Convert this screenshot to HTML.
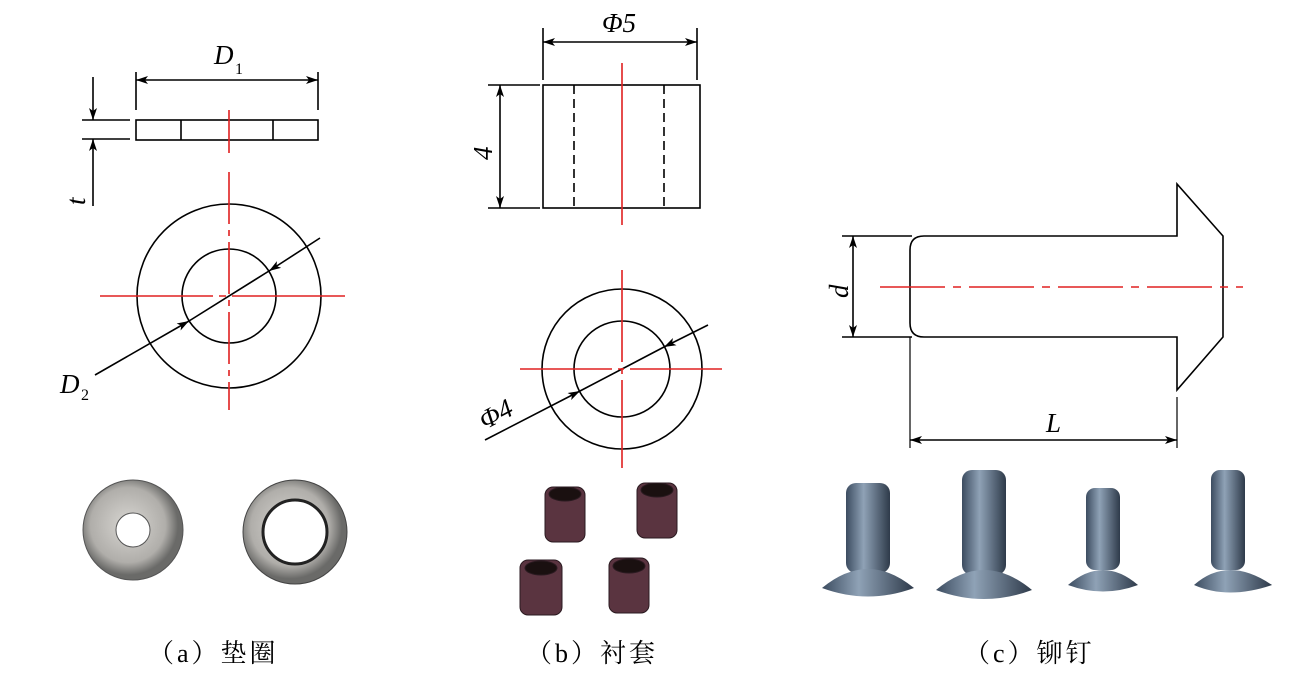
<!DOCTYPE html>
<html><head><meta charset="utf-8"><style>
html,body{margin:0;padding:0;background:#fff}
svg{display:block}
text{font-family:"Liberation Serif","Noto Serif CJK SC",serif}
</style></head><body>
<svg width="1296" height="679" viewBox="0 0 1296 679" xmlns="http://www.w3.org/2000/svg">
<defs>
<marker id="a" viewBox="0 0 12 8" refX="12" refY="4" markerWidth="12" markerHeight="8" orient="auto-start-reverse" markerUnits="userSpaceOnUse"><path d="M0,0 L12,4 L0,8 L3,4z" fill="#000"/></marker>
<radialGradient id="wg" cx="45%" cy="45%"><stop offset="0" stop-color="#d8d6d2"/><stop offset="0.75" stop-color="#b0aeaa"/><stop offset="1" stop-color="#6a6a68"/></radialGradient>
<linearGradient id="rg" x1="0" x2="1"><stop offset="0" stop-color="#3c4c60"/><stop offset="0.4" stop-color="#8fa2b6"/><stop offset="1" stop-color="#2e3a4a"/></linearGradient>
</defs>
<g stroke="#000" stroke-width="1.6" fill="none">
<rect x="136" y="120" width="182" height="20"/>
<line x1="181" y1="120" x2="181" y2="140"/><line x1="273" y1="120" x2="273" y2="140"/>
<line x1="136" y1="72" x2="136" y2="110"/><line x1="318" y1="72" x2="318" y2="110"/>
<line x1="136" y1="80" x2="318" y2="80" marker-start="url(#a)" marker-end="url(#a)"/>
<line x1="82" y1="120" x2="130" y2="120"/><line x1="82" y1="139" x2="130" y2="139"/>
<line x1="93" y1="77" x2="93" y2="120" marker-end="url(#a)"/>
<line x1="93" y1="206" x2="93" y2="139" marker-end="url(#a)"/>
<circle cx="229" cy="296" r="92"/><circle cx="229" cy="296" r="47"/>
<line x1="320" y1="238" x2="269" y2="271" marker-end="url(#a)"/>
<line x1="269" y1="271" x2="189" y2="321"/>
<line x1="95" y1="375" x2="189" y2="321" marker-end="url(#a)"/>
<rect x="543" y="85" width="157" height="123"/>
<line x1="574" y1="85" x2="574" y2="208" stroke-dasharray="9,5"/>
<line x1="664" y1="85" x2="664" y2="208" stroke-dasharray="9,5"/>
<line x1="543" y1="28" x2="543" y2="80"/><line x1="697" y1="28" x2="697" y2="80"/>
<line x1="543" y1="42" x2="697" y2="42" marker-start="url(#a)" marker-end="url(#a)"/>
<line x1="488" y1="85" x2="540" y2="85"/><line x1="488" y1="208" x2="540" y2="208"/>
<line x1="500" y1="85" x2="500" y2="208" marker-start="url(#a)" marker-end="url(#a)"/>
<circle cx="622" cy="369" r="80"/><circle cx="622" cy="369" r="48"/>
<line x1="708" y1="325" x2="664" y2="347" marker-end="url(#a)"/>
<line x1="664" y1="347" x2="580" y2="391"/>
<line x1="485" y1="440" x2="580" y2="391" marker-end="url(#a)"/>
<path d="M1177,236 L924,236 Q910,236 910,250 L910,323 Q910,337 924,337 L1177,337 L1177,390 L1223,337 L1223,236 L1177,184 Z"/>
<line x1="842" y1="236" x2="912" y2="236"/><line x1="842" y1="337" x2="912" y2="337"/>
<line x1="853" y1="236" x2="853" y2="337" marker-start="url(#a)" marker-end="url(#a)"/>
<line x1="910" y1="337" x2="910" y2="448" stroke-width="1.2"/>
<line x1="1177" y1="397" x2="1177" y2="448" stroke-width="1.2"/>
<line x1="910" y1="440" x2="1177" y2="440" marker-start="url(#a)" marker-end="url(#a)"/>
</g>
<g stroke="#e02020" stroke-width="1.6" fill="none">
<line x1="229" y1="110" x2="229" y2="153"/>
<line x1="229" y1="172" x2="229" y2="410" stroke-dasharray="52,6,6,6"/>
<line x1="100" y1="296" x2="345" y2="296" stroke-dasharray="113,6,7,6"/>
<line x1="622" y1="63" x2="622" y2="225"/>
<line x1="622" y1="270" x2="622" y2="468" stroke-dasharray="92,6,6,6"/>
<line x1="520" y1="369" x2="722" y2="369" stroke-dasharray="92,6,6,6"/>
<line x1="880" y1="287" x2="1243" y2="287" stroke-dasharray="65,8,8,8"/>
</g>
<g font-style="italic" font-size="27" fill="#000">
<text x="214" y="64">D</text><text x="235" y="74" font-size="16" font-style="normal">1</text>
<text x="60" y="393">D</text><text x="81" y="400" font-size="16" font-style="normal">2</text>
<text transform="translate(85,205) rotate(-90)">t</text>
<text x="602" y="32">Φ5</text>
<text transform="translate(492,160) rotate(-90)">4</text>
<text transform="translate(485,430) rotate(-28)">Φ4</text>
<text transform="translate(848,298) rotate(-90)">d</text>
<text x="1046" y="432">L</text>
</g>
<circle cx="133" cy="530" r="50" fill="url(#wg)" stroke="#555"/><circle cx="133" cy="530" r="17" fill="#fff" stroke="#555"/>
<circle cx="295" cy="532" r="52" fill="url(#wg)" stroke="#444"/><circle cx="295" cy="532" r="32" fill="#fff" stroke="#222" stroke-width="3"/>
<g fill="#5a3440" stroke="#2a1a20">
<rect x="545" y="487" width="40" height="55" rx="8"/><ellipse cx="565" cy="494" rx="16" ry="7" fill="#1a1010"/>
<rect x="637" y="483" width="40" height="55" rx="8"/><ellipse cx="657" cy="490" rx="16" ry="7" fill="#1a1010"/>
<rect x="520" y="560" width="42" height="55" rx="8"/><ellipse cx="541" cy="568" rx="16" ry="7" fill="#1a1010"/>
<rect x="609" y="558" width="40" height="55" rx="8"/><ellipse cx="629" cy="566" rx="16" ry="7" fill="#1a1010"/>
</g>
<g fill="url(#rg)">
<rect x="846" y="483" width="44" height="90" rx="10"/><path d="M822,588 Q868,550 914,588 Q868,605 822,588Z"/>
<rect x="962" y="470" width="44" height="105" rx="10"/><path d="M936,590 Q984,550 1032,590 Q984,608 936,590Z"/>
<rect x="1086" y="488" width="34" height="82" rx="9"/><path d="M1068,585 Q1103,555 1138,585 Q1103,598 1068,585Z"/>
<rect x="1211" y="470" width="34" height="100" rx="9"/><path d="M1194,585 Q1228,555 1272,585 Q1228,600 1194,585Z"/>
</g>
<g font-size="26" fill="#000">
<text x="148" y="662" letter-spacing="3">（a）垫圈</text>
<text x="526" y="662" letter-spacing="3">（b）衬套</text>
<text x="964" y="662" letter-spacing="3">（c）铆钉</text>
</g>
</svg>
</body></html>
